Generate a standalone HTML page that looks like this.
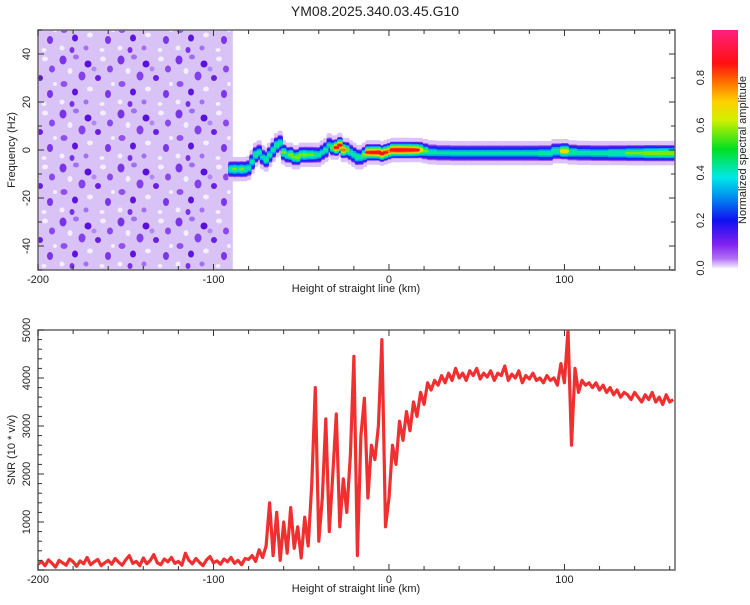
<!DOCTYPE html>
<html><head><meta charset="utf-8"><style>
body{margin:0;background:#fff;}
svg text{font-family:"Liberation Sans",sans-serif;fill:#222;}
</style></head><body>
<svg id="chart" width="750" height="600" viewBox="0 0 750 600" xmlns="http://www.w3.org/2000/svg">
<defs>
<pattern id="noisePat" width="58" height="54" patternUnits="userSpaceOnUse">
<rect width="58" height="54" fill="#d8c2f6"/>
<ellipse cx="5" cy="6" rx="3.5" ry="4.5" fill="#7a34e8"/><ellipse cx="18" cy="3" rx="3" ry="2.5" fill="#a070f0"/>
<ellipse cx="30" cy="10" rx="3.5" ry="3.5" fill="#5a10dc"/><ellipse cx="45" cy="5" rx="3" ry="2.5" fill="#f4eeff"/>
<ellipse cx="12" cy="17" rx="2.5" ry="3" fill="#f4eeff"/><ellipse cx="24" cy="22" rx="3.5" ry="4.5" fill="#8440ea"/>
<ellipse cx="40" cy="24" rx="3" ry="3" fill="#6a1ee2"/><ellipse cx="6" cy="30" rx="3.5" ry="3" fill="#9050ec"/>
<ellipse cx="17" cy="38" rx="3" ry="3.5" fill="#5e14de"/><ellipse cx="32" cy="35" rx="3" ry="2.5" fill="#f4eeff"/>
<ellipse cx="50" cy="40" rx="3" ry="4" fill="#7a36e8"/><ellipse cx="28" cy="48" rx="2.5" ry="2.5" fill="#a070f0"/>
<ellipse cx="4" cy="48" rx="2.5" ry="2.5" fill="#f4eeff"/><ellipse cx="36" cy="15" rx="2.5" ry="2.5" fill="#b088f2"/>
<ellipse cx="52" cy="15" rx="3" ry="3.5" fill="#8a48ec"/><ellipse cx="44" cy="50" rx="2.5" ry="2" fill="#f4eeff"/>
<ellipse cx="14" cy="50" rx="2.5" ry="3" fill="#7a30e8"/><ellipse cx="55" cy="30" rx="2" ry="2" fill="#f4eeff"/>
</pattern>
<linearGradient id="cbGrad" x1="0" y1="1" x2="0" y2="0">
<stop offset="0" stop-color="#f4ecff"/><stop offset="0.04" stop-color="#b070f4"/>
<stop offset="0.1" stop-color="#8020f0"/><stop offset="0.2" stop-color="#1010f0"/>
<stop offset="0.3" stop-color="#0090f0"/><stop offset="0.38" stop-color="#00e8e8"/>
<stop offset="0.5" stop-color="#00e020"/><stop offset="0.62" stop-color="#d0f000"/>
<stop offset="0.7" stop-color="#ffd000"/><stop offset="0.78" stop-color="#ff7000"/>
<stop offset="0.86" stop-color="#ff1010"/><stop offset="1" stop-color="#ff2080"/>
</linearGradient>
<clipPath id="clipTop"><rect x="38" y="30" width="637" height="240"/></clipPath>
<clipPath id="clipBot"><rect x="38" y="330" width="637" height="240"/></clipPath>
</defs>
<text x="375" y="16" font-size="14" text-anchor="middle">YM08.2025.340.03.45.G10</text>
<g id="topPlot"></g>
<g id="botPlot"></g>
<g id="cbar"></g>
</svg>
<script>
// ---- data ----
const ridgeH = [-90,-88,-86,-84,-82,-80,-78,-76,-74,-72,-70,-68,-66,-64,-62,-60,-58,-56,-54,-52,-50,-48,-46,-44,-42,-40,-38,-36,-34,-32,-30,-28,-26,-24,-22,-20,-18,-16,-14,-12,-10,-8,-6,-4,-2,0,2,4,6,8,10,12,14,16,18,20,24,30,40,50,60,70,80,90,96,100,104,110,120,130,140,150,156,163];
const ridgeF = [-8,-8,-8,-8,-8,-7.5,-5,-2,-1,-3,-4,-2,0,2,3,-1,-2,-2,-3,-3,-2,-2,-2,-2,-2,-2,-1,0,2,1,1,2,0,0,-1,-2,-3,-3,-2,-1,-1,-1,-1,-1.5,-1,-0.5,0,0,0,0,0,0,0,0,0,-0.5,-1,-1.2,-1.3,-1.3,-1.3,-1.3,-1.3,-1.3,-0.5,-0.5,-1,-1.2,-1.3,-1.3,-1.3,-1.3,-1.3,-1.3];
const ridgeA = [0.5,0.55,0.5,0.55,0.5,0.45,0.45,0.5,0.45,0.4,0.5,0.45,0.45,0.5,0.45,0.55,0.5,0.6,0.55,0.6,0.55,0.6,0.55,0.55,0.5,0.45,0.4,0.45,0.4,0.55,0.85,0.85,0.8,0.6,0.45,0.45,0.5,0.45,0.6,0.85,0.88,0.88,0.9,0.88,0.85,0.8,0.9,0.92,0.92,0.92,0.9,0.9,0.88,0.85,0.7,0.55,0.45,0.42,0.42,0.42,0.42,0.42,0.42,0.45,0.5,0.7,0.5,0.45,0.45,0.5,0.55,0.6,0.62,0.6];
const snrStart = -200, snrStep = 2;
const snrValues = [120,180,90,210,140,60,200,150,100,230,170,80,190,130,260,110,170,220,90,150,
200,120,240,160,100,210,300,140,180,90,250,130,200,320,150,110,230,170,260,140,
180,100,350,200,130,240,160,90,210,280,150,190,120,230,170,260,140,200,110,240,
220,300,180,420,260,500,1400,300,1200,200,1000,350,1300,450,900,250,1100,500,1800,3800,600,1500,3150,800,2000,3250,900,1900,1200,2400,4450,300,2800,3580,1500,2600,2300,3000,4800,900,1500,2600,2200,3100,2700,3300,2900,3500,3200,3700,3450,3900,3750,3950,3850,4050,3900,4100,3950,4200,4000,
4100,3950,4150,4050,4200,3980,4100,4020,4150,3950,4100,4050,4250,3950,4080,4000,4150,3900,4050,3980,4100,3950,4000,3900,4050,3950,4000,3850,4300,3900,5000,2600,4200,3700,
3950,3850,3900,3800,3900,3750,3850,3700,3800,3650,3750,3600,3700,3650,3550,3700,3600,3500,3650,3550,3700,3500,3600,3450,3650,3500,3550];
const xTickLabels = [-200,-100,0,100];
const fTickLabels = [-40,-20,0,20,40];
const snrTickLabels = [1000,2000,3000,4000,5000];
const cbTickLabels = [0.0,0.2,0.4,0.6,0.8];

// ---- axes ----
const NS="http://www.w3.org/2000/svg";
const X0=38,X1=675,HMIN=-200,HMAX=163;
const xs=h=>X0+(h-HMIN)/(HMAX-HMIN)*(X1-X0);
const yf=f=>270-(f+50)/100*240;
const ys=v=>570-v/5000*240;
const cby=a=>268-a/1*238;
function el(tag,attrs,parent){const e=document.createElementNS(NS,tag);for(const k in attrs)e.setAttribute(k,attrs[k]);parent.appendChild(e);return e;}
function colormap(a){
  const st=[[0,[248,242,255]],[0.04,[220,196,250]],[0.1,[128,32,240]],[0.2,[16,16,240]],[0.3,[0,144,240]],[0.38,[0,232,232]],[0.5,[0,224,32]],[0.62,[208,240,0]],[0.7,[255,208,0]],[0.78,[255,112,0]],[0.86,[255,16,16]],[1,[255,32,128]]];
  for(let i=1;i<st.length;i++){if(a<=st[i][0]){const t=(a-st[i-1][0])/(st[i][0]-st[i-1][0]);const c=st[i-1][1].map((v,j)=>Math.round(v+(st[i][1][j]-v)*t));return `rgb(${c})`;}}
  return 'rgb(255,32,128)';
}
const topG=document.getElementById('topPlot');
const botG=document.getElementById('botPlot');
const cbG=document.getElementById('cbar');

const nz=el('rect',{x:X0,y:30,width:xs(-89)-X0,height:240,fill:'url(#noisePat)'},topG);


const levels=[0.02,0.06,0.12,0.2,0.3,0.4,0.55,0.65,0.75,0.85];
const gR=el('g',{'clip-path':'url(#clipTop)'},topG);


levels.forEach(L=>{
  for(let i=0;i<ridgeH.length;i++){
    const a=ridgeA[i]; if(a<L) continue;
    const hl=i>0?(ridgeH[i]+ridgeH[i-1])/2:ridgeH[i]-1;
    const hr=i<ridgeH.length-1?(ridgeH[i]+ridgeH[i+1])/2:ridgeH[i];
    const half=0.5+3.2*(1-L/a)+(L<0.05?1.5:0);
    const r=el('rect',{x:xs(hl)-1,y:yf(ridgeF[i]+half),width:xs(hr)-xs(hl)+2,height:yf(ridgeF[i]-half)-yf(ridgeF[i]+half),rx:2,fill:colormap(L+0.02)},gR);
    
    
  }
});
function frame(parent,y0,y1,name){const f=el('rect',{x:X0,y:y0,width:X1-X0,height:y1-y0,fill:'none',stroke:'#666','stroke-width':1.5},parent);}
function xTicks(parent,y0,y1){
  for(let h=-200;h<=160;h+=20){const x=xs(h);const big=h%100===0;
    el('line',{x1:x,y1:y1,x2:x,y2:y1-(big?6:4),stroke:'#333'},parent);
    el('line',{x1:x,y1:y0,x2:x,y2:y0+(big?6:4),stroke:'#333'},parent);}
  xTickLabels.forEach(h=>{const t=el('text',{x:xs(h),y:y1+13,'font-size':11,'text-anchor':'middle'},parent);t.textContent=h;});
  const t=el('text',{x:356,y:y1+22,'font-size':11,'text-anchor':'middle'},parent);t.textContent='Height of straight line (km)';
  
}
frame(topG,30,270,'spectrogram-frame');
xTicks(topG,30,270);
for(let f=-50;f<=50;f+=10){const y=yf(f);el('line',{x1:X0,y1:y,x2:X0+(f%20===0?6:4),y2:y,stroke:'#333'},topG);el('line',{x1:X1,y1:y,x2:X1-(f%20===0?6:4),y2:y,stroke:'#333'},topG);}
fTickLabels.forEach(f=>{const y=yf(f);const t=el('text',{x:30,y:y,'font-size':11,'text-anchor':'middle',transform:`rotate(-90 30 ${y})`},topG);t.textContent=f;});
{const t=el('text',{x:15,y:150,'font-size':11,'text-anchor':'middle',transform:'rotate(-90 15 150)'},topG);t.textContent='Frequency (Hz)';}

let d='';
snrValues.forEach((v,i)=>{const h=snrStart+i*snrStep;d+=(i?'L':'M')+xs(h).toFixed(1)+','+ys(v).toFixed(1);});
const ln=el('path',{d:d,fill:'none',stroke:'#f03030','stroke-width':3.2,'stroke-linejoin':'round','clip-path':'url(#clipBot)'},botG);


frame(botG,330,570,'snr-frame');
xTicks(botG,330,570);
for(let v=0;v<=5000;v+=200){const y=ys(v);const big=v%1000===0;el('line',{x1:X0,y1:y,x2:X0+(big?6:4),y2:y,stroke:'#333'},botG);}
snrTickLabels.forEach(v=>{const y=ys(v);const t=el('text',{x:30,y:y,'font-size':11,'text-anchor':'middle',transform:`rotate(-90 30 ${y})`},botG);t.textContent=v;});
{const t=el('text',{x:15,y:450,'font-size':11,'text-anchor':'middle',transform:'rotate(-90 15 450)'},botG);t.textContent='SNR (10 * v/v)';}

const cr=el('rect',{x:712,y:30,width:26,height:238,fill:'url(#cbGrad)'},cbG);


cbTickLabels.forEach(a=>{const y=cby(a);const t=el('text',{x:704,y:y,'font-size':11,'text-anchor':'middle',transform:`rotate(-90 704 ${y})`},cbG);t.textContent=a.toFixed(1);});
{const t=el('text',{x:746,y:150,'font-size':11,'text-anchor':'middle',transform:'rotate(-90 746 150)'},cbG);t.textContent='Normalized spectral amplitude';}
</script>
</body></html>
